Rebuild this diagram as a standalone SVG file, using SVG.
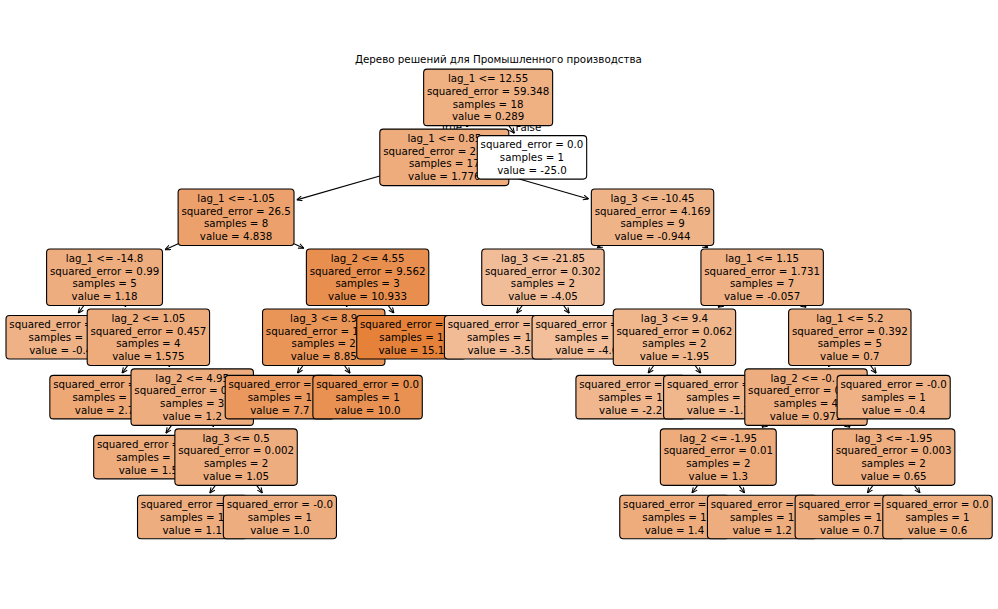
<svg xmlns="http://www.w3.org/2000/svg" width="998" height="609" viewBox="0 0 998 609">
<defs>
<style>
.b{stroke:#000;stroke-width:1.1}
.t{font-family:"DejaVu Sans","Liberation Sans",sans-serif;font-size:10.25px;fill:#000;text-anchor:middle}
.e{stroke:#000;stroke-width:1.1;fill:none;marker-end:url(#ah)}
.ttl{font-family:"DejaVu Sans","Liberation Sans",sans-serif;font-size:10.3px;fill:#000;text-anchor:middle}
</style>
<marker id="ah" markerUnits="userSpaceOnUse" markerWidth="6" markerHeight="6" viewBox="0 0 10 10" refX="10" refY="5" orient="auto"><path d="M1,1 L10,5 L1,9" fill="none" stroke="#000" stroke-width="1.8"/></marker>
</defs>
<rect width="998" height="609" fill="#fff"/>
<text class="ttl" x="498.4" y="62.6">Дерево решений для Промышленного производства</text>
<g id="connectors">
<line class="e" x1="467.48" y1="125.65" x2="466.61" y2="126.84"/>
<line class="e" x1="508.80" y1="125.65" x2="514.43" y2="133.34"/>
<line class="e" x1="379.80" y1="175.92" x2="296.70" y2="199.85"/>
<line class="e" x1="508.80" y1="175.92" x2="588.65" y2="198.91"/>
<line class="e" x1="178.11" y1="243.71" x2="165.04" y2="249.68"/>
<line class="e" x1="83.88" y1="305.5" x2="78.25" y2="313.19"/>
<line class="e" x1="125.2" y1="305.5" x2="126.07" y2="306.69"/>
<line class="e" x1="127.72" y1="365.45" x2="122.09" y2="373.14"/>
<line class="e" x1="169.04" y1="365.45" x2="169.91" y2="366.64"/>
<line class="e" x1="171.56" y1="425.4" x2="165.93" y2="433.09"/>
<line class="e" x1="212.88" y1="425.4" x2="213.75" y2="426.59"/>
<line class="e" x1="215.40" y1="485.35" x2="209.77" y2="493.04"/>
<line class="e" x1="256.72" y1="485.35" x2="262.35" y2="493.04"/>
<line class="e" x1="294.01" y1="243.71" x2="303.83" y2="248.19"/>
<line class="e" x1="346.92" y1="305.5" x2="346.05" y2="306.69"/>
<line class="e" x1="303.08" y1="365.45" x2="297.45" y2="373.14"/>
<line class="e" x1="344.40" y1="365.45" x2="350.03" y2="373.14"/>
<line class="e" x1="388.24" y1="305.5" x2="393.87" y2="313.19"/>
<line class="e" x1="600.9" y1="245.55" x2="597.04" y2="247.66"/>
<line class="e" x1="522.28" y1="305.5" x2="516.65" y2="313.19"/>
<line class="e" x1="563.60" y1="305.5" x2="569.23" y2="313.19"/>
<line class="e" x1="704.18" y1="245.55" x2="708.04" y2="247.66"/>
<line class="e" x1="720.83" y1="305.5" x2="718.08" y2="307.37"/>
<line class="e" x1="653.80" y1="365.45" x2="648.17" y2="373.14"/>
<line class="e" x1="695.12" y1="365.45" x2="700.75" y2="373.14"/>
<line class="e" x1="803.45" y1="305.5" x2="806.2" y2="307.37"/>
<line class="e" x1="829.16" y1="365.45" x2="828.29" y2="366.64"/>
<line class="e" x1="764.67" y1="425.4" x2="761.92" y2="427.27"/>
<line class="e" x1="697.64" y1="485.35" x2="692.01" y2="493.04"/>
<line class="e" x1="738.96" y1="485.35" x2="744.59" y2="493.04"/>
<line class="e" x1="847.29" y1="425.4" x2="850.04" y2="427.27"/>
<line class="e" x1="873.0" y1="485.35" x2="867.37" y2="493.04"/>
<line class="e" x1="914.32" y1="485.35" x2="919.95" y2="493.04"/>
<line class="e" x1="870.48" y1="365.45" x2="876.11" y2="373.14"/>
</g>
<g id="edge-labels">
<text class="t" style="text-anchor:end" x="462" y="130.5">True</text>
<text class="t" style="text-anchor:start" x="515.5" y="130.5">False</text>
</g>
<g id="n10"><rect class="b" x="137.52" y="495.3" width="109.4" height="43.5" rx="3.5" fill="#eead7e"/><text class="t"><tspan x="192.22" y="507.95">squared_error = 0.0</tspan><tspan x="192.22" y="520.75">samples = 1</tspan><tspan x="192.22" y="533.55">value = 1.1</tspan></text></g>
<g id="n11"><rect class="b" x="223.35" y="495.3" width="113.1" height="43.5" rx="3.5" fill="#eead7f"/><text class="t"><tspan x="279.9" y="507.95">squared_error = -0.0</tspan><tspan x="279.9" y="520.75">samples = 1</tspan><tspan x="279.9" y="533.55">value = 1.0</tspan></text></g>
<g id="n29"><rect class="b" x="619.76" y="495.3" width="109.4" height="43.5" rx="3.5" fill="#eeac7d"/><text class="t"><tspan x="674.46" y="507.95">squared_error = 0.0</tspan><tspan x="674.46" y="520.75">samples = 1</tspan><tspan x="674.46" y="533.55">value = 1.4</tspan></text></g>
<g id="n30"><rect class="b" x="707.44" y="495.3" width="109.4" height="43.5" rx="3.5" fill="#eead7e"/><text class="t"><tspan x="762.14" y="507.95">squared_error = 0.0</tspan><tspan x="762.14" y="520.75">samples = 1</tspan><tspan x="762.14" y="533.55">value = 1.2</tspan></text></g>
<g id="n32"><rect class="b" x="795.12" y="495.3" width="109.4" height="43.5" rx="3.5" fill="#eeae80"/><text class="t"><tspan x="849.82" y="507.95">squared_error = 0.0</tspan><tspan x="849.82" y="520.75">samples = 1</tspan><tspan x="849.82" y="533.55">value = 0.7</tspan></text></g>
<g id="n33"><rect class="b" x="882.8" y="495.3" width="109.4" height="43.5" rx="3.5" fill="#eeaf81"/><text class="t"><tspan x="937.5" y="507.95">squared_error = 0.0</tspan><tspan x="937.5" y="520.75">samples = 1</tspan><tspan x="937.5" y="533.55">value = 0.6</tspan></text></g>
<g id="n8"><rect class="b" x="93.68" y="435.35" width="109.4" height="43.5" rx="3.5" fill="#eeac7c"/><text class="t"><tspan x="148.38" y="448.0">squared_error = 0.0</tspan><tspan x="148.38" y="460.8">samples = 1</tspan><tspan x="148.38" y="473.6">value = 1.5</tspan></text></g>
<g id="n9"><rect class="b" x="174.86" y="428.85" width="122.4" height="56.5" rx="3.5" fill="#eead7e"/><text class="t"><tspan x="236.06" y="441.6">lag_3 &lt;= 0.5</tspan><tspan x="236.06" y="454.4">squared_error = 0.002</tspan><tspan x="236.06" y="467.2">samples = 2</tspan><tspan x="236.06" y="480.0">value = 1.05</tspan></text></g>
<g id="n28"><rect class="b" x="660.35" y="428.85" width="115.9" height="56.5" rx="3.5" fill="#eeac7d"/><text class="t"><tspan x="718.3" y="441.6">lag_2 &lt;= -1.95</tspan><tspan x="718.3" y="454.4">squared_error = 0.01</tspan><tspan x="718.3" y="467.2">samples = 2</tspan><tspan x="718.3" y="480.0">value = 1.3</tspan></text></g>
<g id="n31"><rect class="b" x="832.46" y="428.85" width="122.4" height="56.5" rx="3.5" fill="#eeae80"/><text class="t"><tspan x="893.66" y="441.6">lag_3 &lt;= -1.95</tspan><tspan x="893.66" y="454.4">squared_error = 0.003</tspan><tspan x="893.66" y="467.2">samples = 2</tspan><tspan x="893.66" y="480.0">value = 0.65</tspan></text></g>
<g id="n6"><rect class="b" x="49.84" y="375.4" width="109.4" height="43.5" rx="3.5" fill="#eda876"/><text class="t"><tspan x="104.54" y="388.05">squared_error = 0.0</tspan><tspan x="104.54" y="400.85">samples = 1</tspan><tspan x="104.54" y="413.65">value = 2.7</tspan></text></g>
<g id="n7"><rect class="b" x="131.02" y="368.9" width="122.4" height="56.5" rx="3.5" fill="#eead7e"/><text class="t"><tspan x="192.22" y="381.65">lag_2 &lt;= 4.95</tspan><tspan x="192.22" y="394.45">squared_error = 0.047</tspan><tspan x="192.22" y="407.25">samples = 3</tspan><tspan x="192.22" y="420.05">value = 1.2</tspan></text></g>
<g id="n14"><rect class="b" x="225.2" y="375.4" width="109.4" height="43.5" rx="3.5" fill="#ea985e"/><text class="t"><tspan x="279.9" y="388.05">squared_error = 0.0</tspan><tspan x="279.9" y="400.85">samples = 1</tspan><tspan x="279.9" y="413.65">value = 7.7</tspan></text></g>
<g id="n15"><rect class="b" x="312.88" y="375.4" width="109.4" height="43.5" rx="3.5" fill="#e89152"/><text class="t"><tspan x="367.58" y="388.05">squared_error = 0.0</tspan><tspan x="367.58" y="400.85">samples = 1</tspan><tspan x="367.58" y="413.65">value = 10.0</tspan></text></g>
<g id="n24"><rect class="b" x="575.92" y="375.4" width="109.4" height="43.5" rx="3.5" fill="#f0b78e"/><text class="t"><tspan x="630.62" y="388.05">squared_error = 0.0</tspan><tspan x="630.62" y="400.85">samples = 1</tspan><tspan x="630.62" y="413.65">value = -2.2</tspan></text></g>
<g id="n25"><rect class="b" x="663.6" y="375.4" width="109.4" height="43.5" rx="3.5" fill="#f0b68c"/><text class="t"><tspan x="718.3" y="388.05">squared_error = 0.0</tspan><tspan x="718.3" y="400.85">samples = 1</tspan><tspan x="718.3" y="413.65">value = -1.7</tspan></text></g>
<g id="n27"><rect class="b" x="744.78" y="368.9" width="122.4" height="56.5" rx="3.5" fill="#eead7f"/><text class="t"><tspan x="770.5" y="381.65" style="text-anchor:start">lag_2 &lt;= -0.</tspan><tspan x="805.98" y="394.45">squared_error = 0.112</tspan><tspan x="805.98" y="407.25">samples = 4</tspan><tspan x="805.98" y="420.05">value = 0.975</tspan></text></g>
<g id="n34"><rect class="b" x="837.11" y="375.4" width="113.1" height="43.5" rx="3.5" fill="#efb286"/><text class="t"><tspan x="893.66" y="388.05">squared_error = -0.0</tspan><tspan x="893.66" y="400.85">samples = 1</tspan><tspan x="893.66" y="413.65">value = -0.4</tspan></text></g>
<g id="n4"><rect class="b" x="6.0" y="315.45" width="109.4" height="43.5" rx="3.5" fill="#efb286"/><text class="t"><tspan x="60.7" y="328.1">squared_error = 0.0</tspan><tspan x="60.7" y="340.9">samples = 1</tspan><tspan x="60.7" y="353.7">value = -0.4</tspan></text></g>
<g id="n5"><rect class="b" x="87.18" y="308.95" width="122.4" height="56.5" rx="3.5" fill="#eeab7c"/><text class="t"><tspan x="148.38" y="321.7">lag_2 &lt;= 1.05</tspan><tspan x="148.38" y="334.5">squared_error = 0.457</tspan><tspan x="148.38" y="347.3">samples = 4</tspan><tspan x="148.38" y="360.1">value = 1.575</tspan></text></g>
<g id="n13"><rect class="b" x="262.54" y="308.95" width="122.4" height="56.5" rx="3.5" fill="#e99558"/><text class="t"><tspan x="323.74" y="321.7">lag_3 &lt;= 8.9</tspan><tspan x="323.74" y="334.5">squared_error = 1.322</tspan><tspan x="323.74" y="347.3">samples = 2</tspan><tspan x="323.74" y="360.1">value = 8.85</tspan></text></g>
<g id="n16"><rect class="b" x="356.72" y="315.45" width="109.4" height="43.5" rx="3.5" fill="#e58139"/><text class="t"><tspan x="411.42" y="328.1">squared_error = 0.0</tspan><tspan x="411.42" y="340.9">samples = 1</tspan><tspan x="411.42" y="353.7">value = 15.1</tspan></text></g>
<g id="n20"><rect class="b" x="444.4" y="315.45" width="109.4" height="43.5" rx="3.5" fill="#f1bb95"/><text class="t"><tspan x="499.1" y="328.1">squared_error = 0.0</tspan><tspan x="499.1" y="340.9">samples = 1</tspan><tspan x="499.1" y="353.7">value = -3.5</tspan></text></g>
<g id="n21"><rect class="b" x="532.08" y="315.45" width="109.4" height="43.5" rx="3.5" fill="#f2bf9a"/><text class="t"><tspan x="586.78" y="328.1">squared_error = 0.0</tspan><tspan x="586.78" y="340.9">samples = 1</tspan><tspan x="586.78" y="353.7">value = -4.6</tspan></text></g>
<g id="n23"><rect class="b" x="613.26" y="308.95" width="122.4" height="56.5" rx="3.5" fill="#f0b78d"/><text class="t"><tspan x="674.46" y="321.7">lag_3 &lt;= 9.4</tspan><tspan x="674.46" y="334.5">squared_error = 0.062</tspan><tspan x="674.46" y="347.3">samples = 2</tspan><tspan x="674.46" y="360.1">value = -1.95</tspan></text></g>
<g id="n26"><rect class="b" x="788.62" y="308.95" width="122.4" height="56.5" rx="3.5" fill="#eeae80"/><text class="t"><tspan x="849.82" y="321.7">lag_1 &lt;= 5.2</tspan><tspan x="849.82" y="334.5">squared_error = 0.392</tspan><tspan x="849.82" y="347.3">samples = 5</tspan><tspan x="849.82" y="360.1">value = 0.7</tspan></text></g>
<g id="n3"><rect class="b" x="46.59" y="249.0" width="115.9" height="56.5" rx="3.5" fill="#eead7e"/><text class="t"><tspan x="104.54" y="261.75">lag_1 &lt;= -14.8</tspan><tspan x="104.54" y="274.55">squared_error = 0.99</tspan><tspan x="104.54" y="287.35">samples = 5</tspan><tspan x="104.54" y="300.15">value = 1.18</tspan></text></g>
<g id="n12"><rect class="b" x="306.38" y="249.0" width="122.4" height="56.5" rx="3.5" fill="#e88e4e"/><text class="t"><tspan x="367.58" y="261.75">lag_2 &lt;= 4.55</tspan><tspan x="367.58" y="274.55">squared_error = 9.562</tspan><tspan x="367.58" y="287.35">samples = 3</tspan><tspan x="367.58" y="300.15">value = 10.933</tspan></text></g>
<g id="n19"><rect class="b" x="481.74" y="249.0" width="122.4" height="56.5" rx="3.5" fill="#f1bd98"/><text class="t"><tspan x="542.94" y="261.75">lag_3 &lt;= -21.85</tspan><tspan x="542.94" y="274.55">squared_error = 0.302</tspan><tspan x="542.94" y="287.35">samples = 2</tspan><tspan x="542.94" y="300.15">value = -4.05</tspan></text></g>
<g id="n22"><rect class="b" x="700.94" y="249.0" width="122.4" height="56.5" rx="3.5" fill="#efb184"/><text class="t"><tspan x="762.14" y="261.75">lag_1 &lt;= 1.15</tspan><tspan x="762.14" y="274.55">squared_error = 1.731</tspan><tspan x="762.14" y="287.35">samples = 7</tspan><tspan x="762.14" y="300.15">value = -0.057</tspan></text></g>
<g id="n2"><rect class="b" x="178.11" y="189.05" width="115.9" height="56.5" rx="3.5" fill="#eca16c"/><text class="t"><tspan x="236.06" y="201.8">lag_1 &lt;= -1.05</tspan><tspan x="236.06" y="214.6">squared_error = 26.5</tspan><tspan x="236.06" y="227.4">samples = 8</tspan><tspan x="236.06" y="240.2">value = 4.838</tspan></text></g>
<g id="n18"><rect class="b" x="591.34" y="189.05" width="122.4" height="56.5" rx="3.5" fill="#efb388"/><text class="t"><tspan x="652.54" y="201.8">lag_3 &lt;= -10.45</tspan><tspan x="652.54" y="214.6">squared_error = 4.169</tspan><tspan x="652.54" y="227.4">samples = 9</tspan><tspan x="652.54" y="240.2">value = -0.944</tspan></text></g>
<g id="n1"><rect class="b" x="379.8" y="129.1" width="129" height="56.5" rx="3.5" fill="#eeab7b"/><text class="t"><tspan x="444.3" y="141.85">lag_1 &lt;= 0.85</tspan><tspan x="444.3" y="154.65">squared_error = 23.007</tspan><tspan x="444.3" y="167.45">samples = 17</tspan><tspan x="444.3" y="180.25">value = 1.776</tspan></text></g>
<g id="n17"><rect class="b" x="477.28" y="135.6" width="109.4" height="43.5" rx="3.5" fill="#ffffff"/><text class="t"><tspan x="531.98" y="148.25">squared_error = 0.0</tspan><tspan x="531.98" y="161.05">samples = 1</tspan><tspan x="531.98" y="173.85">value = -25.0</tspan></text></g>
<g id="n0"><rect class="b" x="423.64" y="69.15" width="129" height="56.5" rx="3.5" fill="#efb082"/><text class="t"><tspan x="488.14" y="81.9">lag_1 &lt;= 12.55</tspan><tspan x="488.14" y="94.7">squared_error = 59.348</tspan><tspan x="488.14" y="107.5">samples = 18</tspan><tspan x="488.14" y="120.3">value = 0.289</tspan></text></g>
</svg>
